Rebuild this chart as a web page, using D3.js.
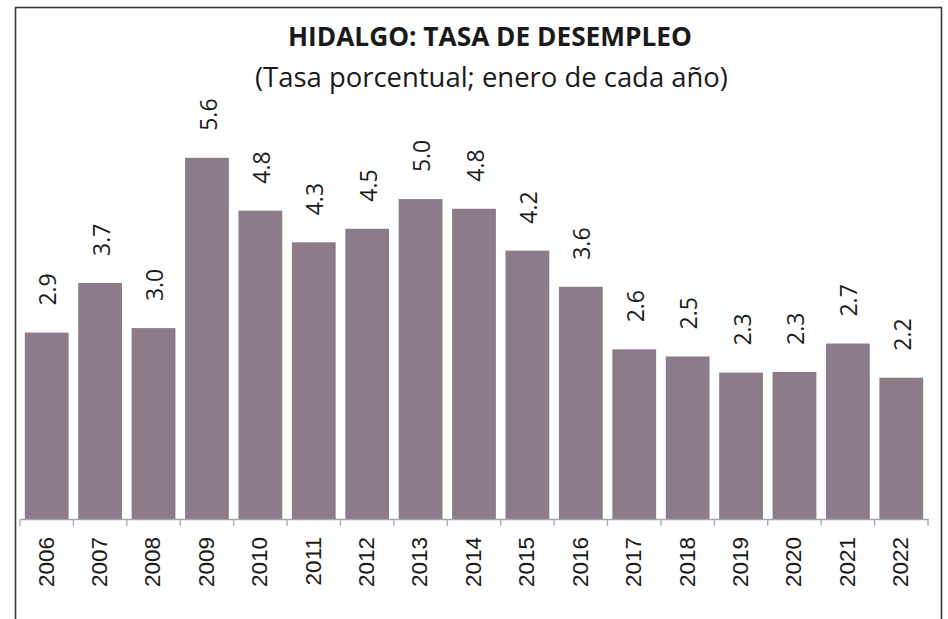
<!DOCTYPE html>
<html>
<head>
<meta charset="utf-8">
<script src="https://cdn.jsdelivr.net/npm/d3@7"></script>
<style>
  body { margin: 0; background: #fff; }
  svg { display: block; }
</style>
</head>
<body>
<div id="chart"></div>
<script>
// data (labels are these values rounded to 1 decimal)
const years = ["2006", "2007", "2008", "2009", "2010", "2011", "2012", "2013", "2014",
               "2015", "2016", "2017", "2018", "2019", "2020", "2021", "2022"];
const rates = [2.89, 3.66, 2.96, 5.6, 4.78, 4.29, 4.5, 4.96, 4.81,
               4.16, 3.6, 2.63, 2.52, 2.27, 2.28, 2.72, 2.19];
const yDomain = [0, 8];

const title = "HIDALGO: TASA DE DESEMPLEO";
const subtitle = "(Tasa porcentual; enero de cada año)";

const W = 948, H = 619;
const barColor = "#8d7b8a";

const svg = d3.select("#chart").append("svg")
    .attr("width", W)
    .attr("height", H);

svg.append("rect")
    .attr("width", W).attr("height", H)
    .attr("fill", "#fff");

// outer frame (bottom edge falls outside the picture)
svg.append("rect")
    .attr("x", 15.5).attr("y", 7.5)
    .attr("width", 926).attr("height", 700)
    .attr("fill", "none")
    .attr("stroke", "#3a3a3a")
    .attr("stroke-width", 1.6);

const x = d3.scaleBand()
    .domain(years)
    .range([20, 928])
    .paddingInner(0.18)
    .paddingOuter(0.09);

const y = d3.scaleLinear()
    .domain(yDomain)
    .range([519, 519 - 64.5 * yDomain[1]]);

// bars
svg.selectAll(".bar")
    .data(years)
    .enter()
    .append("rect")
    .attr("class", "bar")
    .attr("x", d => x(d))
    .attr("width", x.bandwidth())
    .attr("y", (d, i) => y(rates[i]))
    .attr("height", (d, i) => y(0) - y(rates[i]))
    .attr("fill", barColor);

// value labels, rotated
svg.selectAll(".val")
    .data(years)
    .enter()
    .append("text")
    .attr("class", "val")
    .attr("transform", (d, i) =>
        `translate(${x(d) + x.bandwidth() / 2 + 1.5},${y(rates[i]) - 27}) rotate(-90)`)
    .attr("dy", "0.35em")
    .attr("text-anchor", "start")
    .style("font-family", "'Open Sans', 'Noto Sans', sans-serif")
    .style("font-size", "23px")
    .attr("fill", "#1a1a1a")
    .text((d, i) => d3.format(".1f")(rates[i]));

// x axis
const axis = svg.append("g")
    .attr("transform", `translate(0,${y(0)})`)
    .call(d3.axisBottom(x).tickSize(0).tickSizeOuter(0));

axis.select(".domain")
    .attr("stroke", "#a6a6a6")
    .attr("stroke-width", 1.3);

axis.selectAll(".tick text")
    .attr("transform", "rotate(-90)")
    .attr("text-anchor", "end")
    .attr("x", -18)
    .attr("y", -1)
    .attr("dy", "0.35em")
    .style("font-family", "'Liberation Sans', Arial, sans-serif")
    .style("font-size", "22.5px")
    .attr("fill", "#1a1a1a");

// category boundary ticks
const half = x.step() * x.paddingInner() / 2;
const bounds = years.map(d => x(d) - half)
    .concat([x(years[years.length - 1]) + x.bandwidth() + half]);

axis.selectAll(".btick")
    .data(bounds)
    .enter()
    .append("line")
    .attr("class", "btick")
    .attr("x1", d => d).attr("x2", d => d)
    .attr("y1", 0).attr("y2", 7)
    .attr("stroke", "#a6a6a6")
    .attr("stroke-width", 1.3);

// titles
const t1 = svg.append("text")
    .attr("x", 490).attr("y", 46)
    .attr("text-anchor", "middle")
    .style("font-family", "'Open Sans', 'Noto Sans', sans-serif")
    .style("font-weight", "bold")
    .style("font-size", "26px")
    .attr("fill", "#1a1a1a")
    .text(title);

const t2 = svg.append("text")
    .attr("x", 491.5).attr("y", 87)
    .attr("text-anchor", "middle")
    .style("font-family", "'Open Sans', 'Noto Sans', sans-serif")
    .style("font-size", "26px")
    .attr("fill", "#1a1a1a")
    .text(subtitle);

// match the measured widths of the reference titles
function fitWidth(sel, target) {
    const w = sel.node().getComputedTextLength();
    const fs = parseFloat(sel.style("font-size"));
    sel.style("font-size", (fs * target / w) + "px");
}
fitWidth(t1, 404);
fitWidth(t2, 473);
</script>
</body>
</html>
